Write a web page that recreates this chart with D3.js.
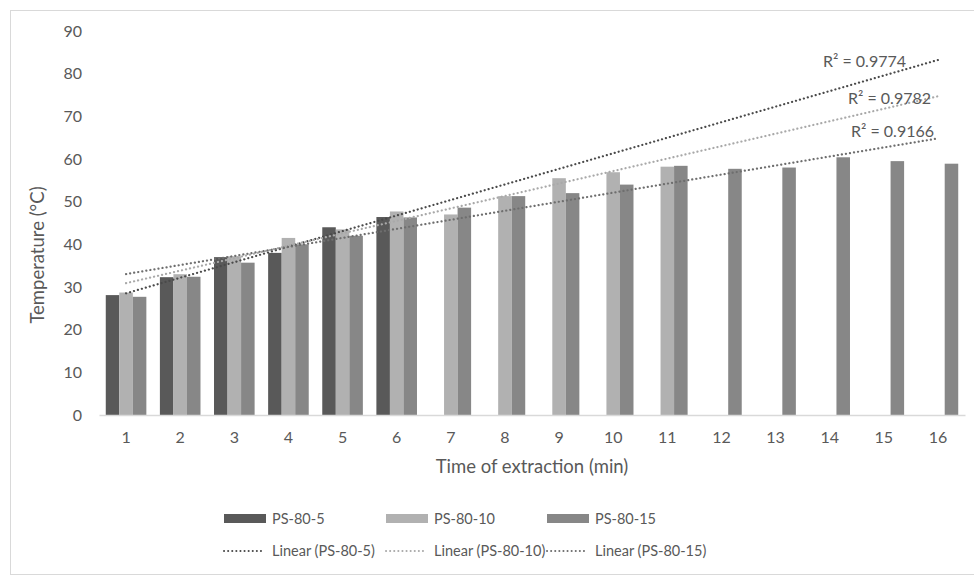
<!DOCTYPE html>
<html>
<head>
<meta charset="utf-8">
<script src="https://cdn.jsdelivr.net/npm/d3@7"></script>
<style>
  body { margin: 0; background: #fff; }
  text { font-family: Lato, "Open Sans", sans-serif; fill: #595959; }
</style>
</head>
<body>
<div id="chart"></div>
<script>
const categories = [1, 2, 3, 4, 5, 6, 7, 8, 9, 10, 11, 12, 13, 14, 15, 16];
const seriesNames = ["PS-80-5", "PS-80-10", "PS-80-15"];
const ps5 = [28.1, 32.3, 37.0, 38.0, 44.0, 46.4];
const ps10 = [28.7, 33.0, 37.2, 41.5, 43.5, 47.7, 47.0, 51.3, 55.5, 56.9, 58.2];
const ps15 = [27.7, 32.4, 35.7, 40.0, 42.0, 46.3, 48.6, 51.3, 52.0, 54.0, 58.4, 57.7, 58.0, 60.4, 59.5, 58.9];
const r2Labels = ["R² = 0.9774", "R² = 0.9782", "R² = 0.9166"];
const yTicks = [0, 10, 20, 30, 40, 50, 60, 70, 80, 90];

const barColors = ["#595959", "#b1b1b1", "#878787"];
const trendColors = ["#4a4a4a", "#a9a9a9", "#6e6e6e"];
const allSeries = [ps5, ps10, ps15];

const W = 974, H = 577;
const margin = { top: 31, right: 9, bottom: 162, left: 99 },
    width = W - margin.left - margin.right,
    height = H - margin.top - margin.bottom;

const root = d3.select("#chart").append("svg")
    .attr("width", W)
    .attr("height", H);

root.append("rect")
    .attr("x", 10.5).attr("y", 10.5)
    .attr("width", W).attr("height", H - 13)
    .attr("fill", "none").attr("stroke", "#d9d9d9");

const svg = root.append("g")
    .attr("transform", "translate(" + margin.left + "," + margin.top + ")");

const x = d3.scaleBand().domain(categories).range([0, width]);
const x1 = d3.scaleBand().domain(seriesNames)
    .range([x.bandwidth() / 8, x.bandwidth() * 7 / 8]);
const y = d3.scaleLinear().domain([0, 90]).range([height, 0]);

// y axis labels only
const yAxis = svg.append("g")
    .call(d3.axisLeft(y).tickValues(yTicks).tickSize(0).tickPadding(17));
yAxis.select(".domain").remove();
yAxis.selectAll("text").style("font-size", "16px").attr("fill", "#595959")
    .style("font-family", "Lato, sans-serif");

// bars
allSeries.forEach((vals, s) => {
    svg.append("g").selectAll("rect")
        .data(vals)
        .enter()
        .append("rect")
        .attr("x", (d, i) => x(categories[i]) + x1(seriesNames[s]))
        .attr("width", x1.bandwidth())
        .attr("y", d => y(d))
        .attr("height", d => height - y(d))
        .attr("fill", barColors[s]);
});

// x axis
const xAxis = svg.append("g")
    .attr("transform", "translate(0," + height + ")")
    .call(d3.axisBottom(x).tickSize(0).tickPadding(17));
xAxis.select(".domain").attr("stroke", "#d9d9d9").attr("stroke-width", 1.5);
xAxis.selectAll("text").style("font-size", "16px").attr("fill", "#595959")
    .style("font-family", "Lato, sans-serif");

// linear trendlines (least squares on the plotted points)
function fit(vals) {
    const xs = vals.map((d, i) => categories[i]);
    const mx = d3.mean(xs), my = d3.mean(vals);
    const sxy = d3.sum(vals, (d, i) => (xs[i] - mx) * (d - my));
    const sxx = d3.sum(xs, v => (v - mx) * (v - mx));
    const b = sxy / sxx;
    return { a: my - b * mx, b: b };
}
const cx = c => x(c) + x.bandwidth() / 2;
allSeries.forEach((vals, s) => {
    const f = fit(vals);
    const ends = [categories[0], categories[categories.length - 1]];
    svg.append("path")
        .datum(ends)
        .attr("fill", "none")
        .attr("stroke", trendColors[s])
        .attr("stroke-width", 2.2)
        .attr("stroke-linecap", "round")
        .attr("stroke-dasharray", "0.1,4")
        .attr("d", d3.line()
            .x(c => cx(c))
            .y(c => y(f.a + f.b * c)));
});

// R² labels
const r2Pos = [[724, 36], [749, 73], [752, 106]];
r2Labels.forEach((t, i) => {
    svg.append("text")
        .attr("x", r2Pos[i][0]).attr("y", r2Pos[i][1])
        .style("font-size", "16px")
        .text(t);
});

// axis titles
root.append("text")
    .attr("transform", "translate(44,255) rotate(-90)")
    .attr("text-anchor", "middle")
    .style("font-size", "18.5px")
    .text("Temperature (°C)");
root.append("text")
    .attr("x", 532).attr("y", 473)
    .attr("text-anchor", "middle")
    .style("font-size", "18.5px")
    .text("Time of extraction (min)");

// legend
const legX = [224, 386, 547];
seriesNames.forEach((n, i) => {
    root.append("rect")
        .attr("x", legX[i]).attr("y", 514)
        .attr("width", 42).attr("height", 9)
        .attr("fill", barColors[i]);
    root.append("text")
        .attr("x", legX[i] + 48).attr("y", 524)
        .style("font-size", "14.5px")
        .text(n);
    root.append("line")
        .attr("x1", legX[i]).attr("x2", legX[i] + 40)
        .attr("y1", 551).attr("y2", 551)
        .attr("stroke", trendColors[i])
        .attr("stroke-width", 2)
        .attr("stroke-linecap", "round")
        .attr("stroke-dasharray", "0.1,4");
    root.append("text")
        .attr("x", legX[i] + 48).attr("y", 556)
        .style("font-size", "14.5px")
        .text("Linear (" + n + ")");
});
</script>
</body>
</html>
